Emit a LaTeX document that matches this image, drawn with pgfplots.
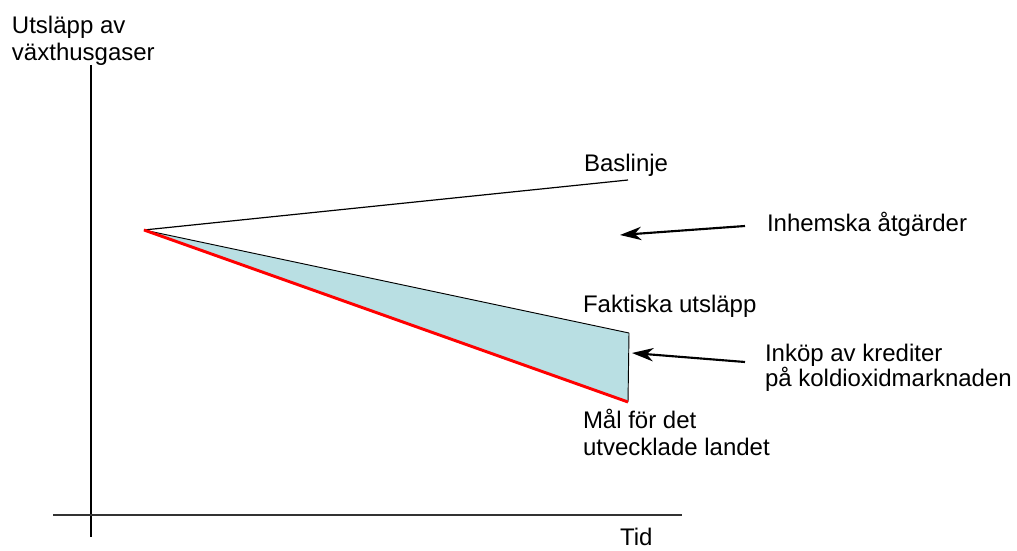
\documentclass[border=0pt]{standalone}
\usepackage{pgfplots}
\pgfplotsset{compat=1.18}
\usepackage{fontspec}
\setmainfont{Liberation Sans}
\usetikzlibrary{arrows.meta}
\definecolor{fillblue}{RGB}{185,223,227}
\tikzset{lbl/.style={font=\fontsize{18}{21}\selectfont, inner sep=0pt, outer sep=0pt, anchor=base west}}
\begin{document}
\begin{tikzpicture}
\begin{axis}[
  width=762.75pt, height=412.5pt, scale only axis,
  xmin=0, xmax=1017, ymin=0, ymax=550,
  hide axis, clip=false,
]
\path (rel axis cs:0,0) rectangle (rel axis cs:1,1);
% axes
\addplot[black, line width=1pt] coordinates {(91,485) (91,13)};
\addplot[black!80, line width=1.3pt] coordinates {(53,35) (682,35)};
% filled area
\addplot[fill=fillblue, draw=none] coordinates {(144,320) (629,217) (628,148) (144,320)};
% lines
\addplot[black, line width=0.9pt] coordinates {(144,320) (628,370)};
\addplot[black, line width=0.7pt] coordinates {(144,320) (629,217)};
\addplot[black, line width=0.7pt] coordinates {(629,217) (628,148)};
\addplot[red, line width=2.2pt] coordinates {(144,320) (628,148)};
% arrows
\addplot[black, line width=1.6pt, -{Stealth[length=16pt,width=10pt,inset=5pt]}] coordinates {(745,324) (620,315)};
\addplot[black, line width=1.6pt, -{Stealth[length=16pt,width=10pt,inset=5pt]}] coordinates {(745,188) (632,197)};
% labels
\node[lbl] at (axis cs:12,516) {Utsläpp av};
\node[lbl] at (axis cs:12,489) {växthusgaser};
\node[lbl] at (axis cs:584,378) {Baslinje};
\node[lbl] at (axis cs:583,237) {Faktiska utsläpp};
\node[lbl] at (axis cs:583,122) {Mål för det};
\node[lbl] at (axis cs:583,95) {utvecklade landet};
\node[lbl] at (axis cs:767,318) {Inhemska åtgärder};
\node[lbl] at (axis cs:765,188) {Inköp av krediter};
\node[lbl] at (axis cs:765,163) {på koldioxidmarknaden};
\node[lbl] at (axis cs:620,5) {Tid};
\end{axis}
\end{tikzpicture}
\end{document}
